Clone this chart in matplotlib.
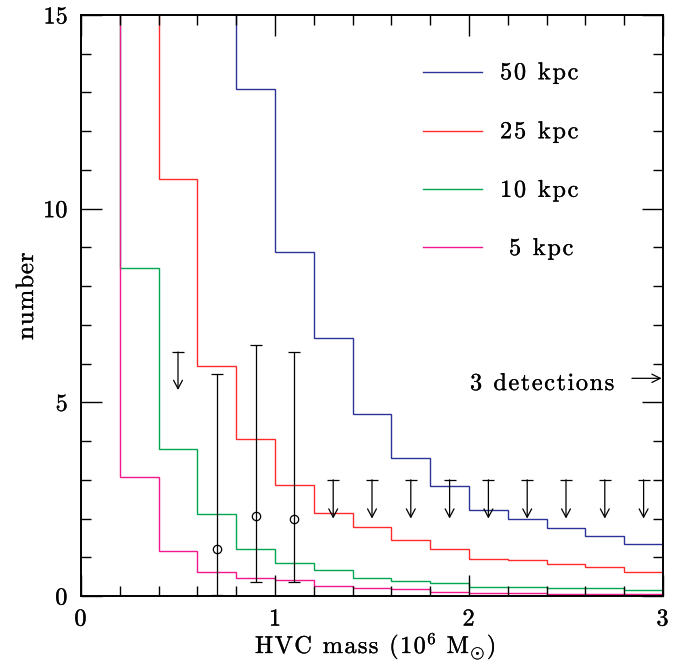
import numpy as np
import matplotlib
matplotlib.use('Agg')
import matplotlib.pyplot as plt
import matplotlib.patheffects as pe
from matplotlib.ticker import MultipleLocator

plt.rcParams['font.family'] = ['cmr10', 'DejaVu Serif']
plt.rcParams['mathtext.fontset'] = 'cm'
plt.rcParams['axes.unicode_minus'] = False
plt.rcParams['axes.formatter.use_mathtext'] = True

# bin edges in 10^6 Msun, first bins above 15 are off scale
edges = np.round(np.arange(0, 3.01, 0.2), 1)
OFF = 30.0

n_50kpc = [OFF, OFF, OFF, OFF, 13.1, 8.87, 6.65, 4.70, 3.57, 2.85, 2.23, 1.98, 1.76, 1.56, 1.33]
n_25kpc = [OFF, OFF, 10.76, 5.95, 4.05, 2.86, 2.13, 1.77, 1.45, 1.21, 0.96, 0.92, 0.82, 0.75, 0.61]
n_10kpc = [OFF, 8.48, 3.80, 2.11, 1.22, 0.85, 0.66, 0.47, 0.40, 0.33, 0.24, 0.24, 0.21, 0.20, 0.15]
n_5kpc = [OFF, 3.07, 1.16, 0.61, 0.46, 0.42, 0.27, 0.20, 0.19, 0.10, 0.09, 0.08, 0.06, 0.06, 0.04]

labels = ['50 kpc', '25 kpc', '10 kpc', '5 kpc']
colors = ['#2b3399', '#ff2a2a', '#00a651', '#f0188c']

# detections with error bars
det_x = [0.7, 0.9, 1.1]
det_y = [1.21, 2.07, 2.0]
det_lo = [0.03, 0.37, 0.37]
det_hi = [5.74, 6.49, 6.29]

# upper limits (top of bar -> arrow tip)
lim_x = [0.5, 1.3, 1.5, 1.7, 1.9, 2.1, 2.3, 2.5, 2.7, 2.9]
lim_top = [6.30, 3.0, 3.0, 3.0, 3.0, 3.0, 3.0, 3.0, 3.0, 3.0]
lim_tip = [5.32, 2.0, 2.0, 2.0, 2.0, 2.0, 2.0, 2.0, 2.0, 2.0]

W, H = 694, 665
fig = plt.figure(figsize=(W / 100, H / 100), dpi=100)
ax = fig.add_axes([81 / W, 1 - 596 / H, 582 / W, 581 / H])
rend = fig.canvas.get_renderer()
bold = [pe.withStroke(linewidth=0.2, foreground='black')]


def tok_width(tok, size):
    if tok == ' ':
        return 0.333 * size * 100 / 72
    t = fig.text(0, 0, tok, fontsize=size)
    w = t.get_window_extent(rend).width
    t.remove()
    return w


def spaced_text(x, y, tokens, gap=1.5, rotation=0):
    # tokens: list of (text, size, raise_px); x, y = start of baseline, pixels from top-left
    for tok, size, dy in tokens:
        if tok != ' ':
            if rotation == 0:
                px, py = x, y - dy
            else:
                px, py = x - dy, y
            fig.text(px / W, 1 - py / H, tok, fontsize=size, rotation=rotation,
                     rotation_mode='anchor', ha='left', va='baseline', path_effects=bold)
        adv = tok_width(tok, size) + gap
        if rotation == 0:
            x += adv
        else:
            y -= adv


def plain(s, size=17.5):
    return [(ch, size, 0) for ch in s]


for vals, c in zip([n_50kpc, n_25kpc, n_10kpc, n_5kpc], colors):
    ax.stairs(vals, edges, baseline=None, color=c, lw=1.0)

# error bars
yerr = [np.array(det_y) - np.array(det_lo), np.array(det_hi) - np.array(det_y)]
ax.errorbar(det_x, det_y, yerr=yerr, fmt='o', mfc='none', mec='black', ms=6,
            mew=0.9, ecolor='black', elinewidth=0.9, capsize=4, capthick=0.9)

# upper limit arrows
for x, t, b in zip(lim_x, lim_top, lim_tip):
    ax.annotate('', xy=(x, b), xytext=(x, t),
                arrowprops=dict(arrowstyle='->, head_width=0.32, head_length=0.6',
                                lw=0.9, color='black', shrinkA=0, shrinkB=0))
    ax.plot([x], [t], marker='_', ms=8, mew=0.9, color='black')

# legend drawn by hand
leg_y = [71.7, 130.7, 189.3, 247.5]
for lab, c, yy in zip(labels, colors, leg_y):
    ax.plot([423 / W, 482 / W], [1 - yy / H] * 2, color=c, lw=1.0, transform=fig.transFigure)
    x0 = 509 if len(lab) < 6 else 500
    spaced_text(x0, yy + 7.5, plain(lab), gap=1.8)

# 3 detections arrow
spaced_text(470, 390, plain('3 detections'), gap=1.6)
ax.annotate('', xy=(3.0, 5.62), xytext=(2.84, 5.62),
            arrowprops=dict(arrowstyle='->, head_width=0.3, head_length=0.6',
                            lw=0.9, color='black', shrinkA=0, shrinkB=1))

ax.set_xlim(0, 3)
ax.set_ylim(0, 15)
ax.xaxis.set_major_locator(MultipleLocator(1))
ax.xaxis.set_minor_locator(MultipleLocator(0.2))
ax.yaxis.set_major_locator(MultipleLocator(5))
ax.yaxis.set_minor_locator(MultipleLocator(1))
ax.tick_params(which='both', direction='in', top=True, right=True, width=1.0, labelsize=17.5)
ax.tick_params(which='major', length=15, pad=9)
ax.tick_params(which='minor', length=7)
for lbl in ax.get_xticklabels() + ax.get_yticklabels():
    lbl.set_path_effects(bold)
for s in ax.spines.values():
    s.set_linewidth(1.4)

# axis labels with letter spacing
xlab = plain('HVC mass (10') + [('6', 12, 9)] + plain(' M') + [(r'$\odot$', 13, -5)] + plain(')')
spaced_text(255, 653, xlab, gap=1.4)
spaced_text(33, 340, plain('number', 18), gap=0.8, rotation=90)

fig.savefig('out.png', dpi=100)
